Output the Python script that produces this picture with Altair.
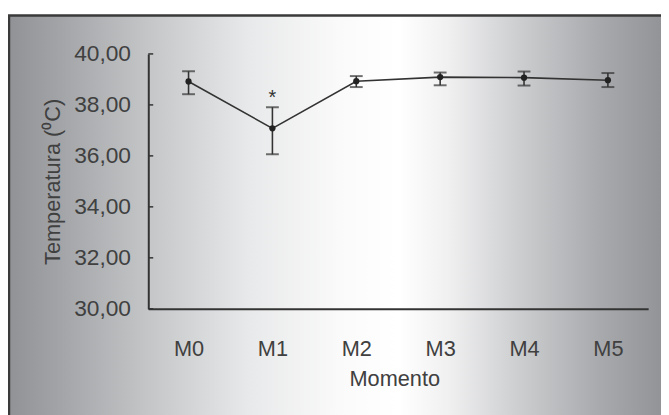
import altair as alt
import pandas as pd

moments = ["M0", "M1", "M2", "M3", "M4", "M5"]
means = [38.92, 37.08, 38.93, 39.09, 39.07, 38.97]
lowers = [38.42, 36.06, 38.70, 38.77, 38.76, 38.70]
uppers = [39.32, 37.91, 39.13, 39.27, 39.31, 39.25]
marks = ["", "*", "", "", "", ""]
y_ticks = [30, 32, 34, 36, 38, 40]

df = pd.DataFrame({"Momento": moments, "mean": means, "lo": lowers, "hi": uppers, "sig": marks})
ticks_df = pd.DataFrame({"t": y_ticks})

W, H = 506, 258
FONT = "Liberation Sans, Arial, sans-serif"
DARK = "#333333"
TXT = "#404040"

xs = alt.Scale(type="point", domain=moments, padding=0.48)
ys = alt.Scale(domain=[30, 40], nice=False, zero=False)

grad = alt.Gradient(
    gradient="linear", x1=0, x2=1, y1=0, y2=0,
    stops=[
        alt.GradientStop(color="#909296", offset=0.0),
        alt.GradientStop(color="#a2a4a7", offset=0.077),
        alt.GradientStop(color="#c4c6c8", offset=0.212),
        alt.GradientStop(color="#e8e9ea", offset=0.362),
        alt.GradientStop(color="#fafafa", offset=0.498),
        alt.GradientStop(color="#ffffff", offset=0.588),
        alt.GradientStop(color="#f0f0f1", offset=0.663),
        alt.GradientStop(color="#cdced0", offset=0.768),
        alt.GradientStop(color="#a8aaad", offset=0.889),
        alt.GradientStop(color="#8e9094", offset=1.0),
    ],
)

bg = alt.Chart(alt.Data(values=[{"a": 1}])).mark_rect(
    fill=grad, stroke="#3a3a3a", strokeWidth=2.5
).encode(x=alt.value(-141), x2=alt.value(530), y=alt.value(-39), y2=alt.value(380))

yaxis = alt.Axis(
    values=y_ticks, format=".2f", labelExpr="replace(datum.label, '.', ',')",
    ticks=False, tickSize=0, labelPadding=18, labelFontSize=23, labelFont=FONT, labelColor=TXT,
    domainColor=DARK, domainWidth=2, grid=False, zindex=1,
    title="Temperatura (⁰C)", titleFont=FONT, titleFontSize=22, titleFontWeight="normal",
    titleColor=TXT, titleAngle=-90, titleX=-90, titleY=H / 2, titleBaseline="alphabetic",
    titleAlign="center",
)
xaxis = alt.Axis(
    ticks=False, tickSize=0, labelPadding=47, labelBaseline="alphabetic", labelAngle=0,
    labelFontSize=22, labelFont=FONT, labelColor=TXT,
    domainColor=DARK, domainWidth=2, grid=False, zindex=1,
    title="Momento", titleFont=FONT, titleFontSize=22, titleFontWeight="normal",
    titleColor=TXT, titleX=W / 2 - 4, titleY=78, titleBaseline="alphabetic", titleAlign="center",
)

X = alt.X("Momento:N", scale=xs, axis=xaxis, sort=moments)


def Y(field):
    return alt.Y(field, scale=ys, axis=yaxis)


base = alt.Chart(df)

line = base.mark_line(color=DARK, strokeWidth=1.6).encode(x=X, y=Y("mean:Q"))

inner_ticks = alt.Chart(ticks_df).mark_rule(color=DARK, strokeWidth=1.5).encode(
    x=alt.value(0), x2=alt.value(5), y=Y("t:Q")
)

rules = base.mark_rule(color=DARK, strokeWidth=1.6).encode(x=X, y=Y("lo:Q"), y2="hi:Q")
cap_hi = base.mark_tick(color=DARK, size=13, thickness=2, orient="horizontal").encode(
    x=X, y=Y("hi:Q")
)
cap_lo = base.mark_tick(color=DARK, size=13, thickness=2, orient="horizontal").encode(
    x=X, y=Y("lo:Q")
)
pts = base.mark_point(filled=True, color="#222222", size=40, opacity=1).encode(
    x=X, y=Y("mean:Q")
)
star = base.mark_text(color=DARK, fontSize=20, font=FONT, baseline="alphabetic", dy=-3).encode(
    x=X, y=Y("hi:Q"), text="sig:N"
)

chart = alt.layer(bg, line, inner_ticks, rules, cap_hi, cap_lo, pts, star).properties(
    width=W, height=H,
    autosize=alt.AutoSizeParams(type="none"),
    padding={"left": 142, "top": 44, "right": 13, "bottom": 105},
    background="#ffffff",
).configure_view(stroke="transparent")

chart.save("out.html", embed_options={"renderer": "svg", "actions": False})
